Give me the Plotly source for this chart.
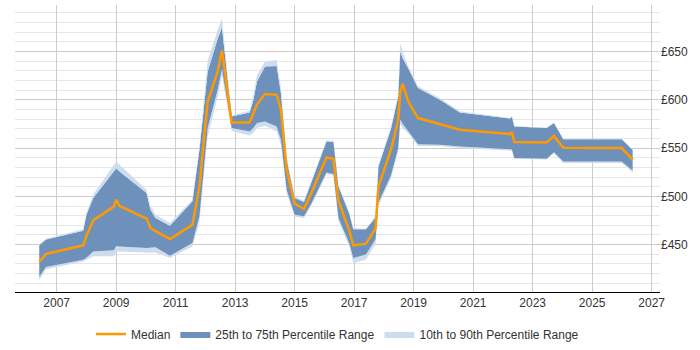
import plotly.graph_objects as go

# Fractional years of the observations
years = [2006.415, 2006.64, 2007.894, 2008.002, 2008.23, 2008.926, 2009.003, 2009.104,
         2010.022, 2010.153, 2010.321, 2010.808, 2011.565, 2011.8, 2012.076, 2012.412,
         2012.556, 2012.882, 2013.487, 2013.615, 2013.733, 2014.002, 2014.395, 2014.539,
         2014.731, 2015.0, 2015.313, 2015.571, 2016.069, 2016.304, 2016.472, 2016.842,
         2016.97, 2017.397, 2017.719, 2017.817, 2018.237, 2018.482, 2018.55, 2018.63,
         2018.818, 2019.145, 2019.884, 2020.556, 2022.237, 2022.304, 2022.382, 2023.471,
         2023.716, 2024.029, 2025.992, 2026.361]

p10 = [413.5, 424.5, 432.5, 434, 437.9, 437.9, 443, 443,
       441.4, 441.5, 442, 436.3, 448, 474, 562, 603.3,
       625, 567.5, 563, 566, 570.6, 573, 567.1, 553,
       503, 479, 477.5, 491, 523, 521.5, 474.5, 447.5,
       431.1, 434.5, 451, 490, 519, 547, 575, 570.5,
       565, 552, 552, 550, 547.5, 547.3, 538.8, 538,
       544.5, 534.4, 534.6, 524.7]

p25 = [416.5, 427, 434.5, 436.5, 443, 444.1, 448.5, 448,
       446.6, 446.8, 447.2, 438.6, 451.8, 479.3, 570.6, 610.2,
       631.6, 570.6, 567.1, 571, 575.8, 577.4, 572.3, 558.5,
       506.8, 481, 479.3, 493.1, 524.7, 523, 477.6, 451,
       436.3, 439.7, 455.5, 493.5, 521.5, 549.9, 579.2, 575,
       567.5, 553.8, 553.4, 551.6, 548.6, 548.3, 539.6, 539,
       545.6, 536.1, 536.1, 526.8]

median = [432, 440.4, 449.3, 459.3, 475.1, 489.6, 496.5, 490.3,
          477, 467.3, 464, 455.9, 470.7, 510.3, 598, 629.1,
          650.8, 576.4, 576.4, 586.1, 595, 605.8, 605, 589.5,
          527.5, 492.4, 486.9, 504, 540.2, 538.8, 495.5, 464,
          449.2, 451, 466.8, 510.3, 548.2, 579.2, 608.5, 616.5,
          598.1, 581, 574.4, 568.9, 564.4, 566.5, 556.2, 555.7,
          562.3, 550.2, 550, 537.9]

p75 = [449.3, 455.2, 464.5, 481, 498.3, 525, 529, 526,
       503.4, 486.2, 477.6, 469.6, 494.8, 548.2, 629, 663,
       675, 582.6, 586.7, 600, 618.8, 634.3, 635, 606.8,
       537.9, 498.3, 494.1, 515.4, 556.8, 556.1, 510.3, 481.5,
       466, 466, 478, 531, 570, 603.3, 650, 643,
       632.6, 612, 599.9, 586.7, 580.6, 582.3, 572.3, 570.6,
       575.8, 559.2, 559.2, 548]

p90 = [450.5, 456, 466, 483, 502, 532, 536, 533,
       506.8, 490, 481, 472.4, 496.5, 552, 640, 672,
       684.3, 584, 588.5, 605, 625, 639.5, 641.2, 612,
       541, 500, 495.5, 517, 558, 557.5, 512, 483,
       467, 466.5, 480, 532, 572, 606, 659, 649,
       634.5, 614, 601.5, 588, 581, 582.8, 572.8, 571,
       576.5, 559.6, 559.6, 548.5]

tick_years = [2007, 2009, 2011, 2013, 2015, 2017, 2019, 2021, 2023, 2025, 2027]
tick_labels = [str(y) for y in tick_years]
y_ticks = [450, 500, 550, 600, 650]
y_labels = ["£" + str(v) for v in y_ticks]

DARK = "rgb(110,145,187)"
LIGHT = "rgb(205,221,238)"
ORANGE = "#ff9900"

fig = go.Figure()
fig.add_trace(go.Scatter(x=years, y=p10, mode="lines", line=dict(width=0),
                         showlegend=False, hoverinfo="skip"))
fig.add_trace(go.Scatter(x=years, y=p25, mode="lines", line=dict(width=0),
                         fill="tonexty", fillcolor=LIGHT,
                         name="10th to 90th Percentile Range", legendrank=3,
                         showlegend=True, hoverinfo="skip"))
fig.add_trace(go.Scatter(x=years, y=p75, mode="lines", line=dict(width=0),
                         fill="tonexty", fillcolor=DARK,
                         name="25th to 75th Percentile Range", legendrank=2,
                         hoverinfo="skip"))
fig.add_trace(go.Scatter(x=years, y=p90, mode="lines", line=dict(width=0),
                         fill="tonexty", fillcolor=LIGHT,
                         showlegend=False, hoverinfo="skip"))
fig.add_trace(go.Scatter(x=years, y=median, mode="lines",
                         line=dict(color=ORANGE, width=2.5),
                         name="Median", legendrank=1, hoverinfo="skip"))

fig.update_layout(
    width=700, height=350,
    margin=dict(l=15, r=40, t=5, b=58, autoexpand=False),
    paper_bgcolor="white", plot_bgcolor="white",
    font=dict(family="Liberation Sans, Arial, sans-serif", size=12, color="#333"),
    showlegend=True,
    legend=dict(orientation="h", x=0.5, xanchor="center", xref="paper",
                y=16 / 350, yanchor="middle", yref="container",
                font=dict(size=12, color="#333"), traceorder="normal",
                itemwidth=30),
    xaxis=dict(range=[2005.6, 2027.28], tickmode="array", tickvals=tick_years,
               ticktext=tick_labels, showgrid=True, gridcolor="#cccccc", gridwidth=1,
               showline=True, linecolor="#000", linewidth=1, ticks="",
               zeroline=False, fixedrange=True, automargin=False),
    yaxis=dict(range=[401, 698], side="right", tickmode="array", tickvals=y_ticks,
               ticktext=y_labels, showgrid=True, gridcolor="#cccccc", gridwidth=1,
               showline=False, ticks="", zeroline=False, fixedrange=True, automargin=False,
               minor=dict(tickmode="linear", tick0=0, dtick=10, showgrid=True,
                          gridcolor="#e6e6e6", gridwidth=1)),
)

fig.write_html("out.html")
